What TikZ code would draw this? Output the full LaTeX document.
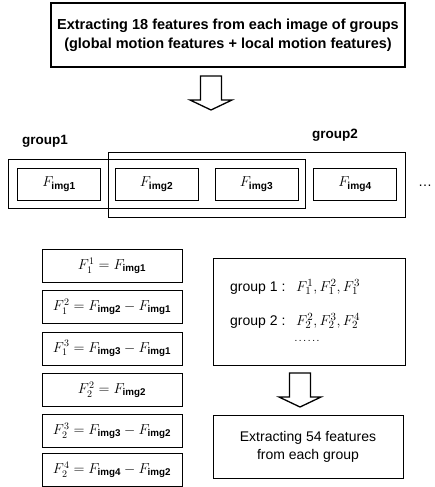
\documentclass[tikz,border=0pt]{standalone}
\usepackage{fontspec}
\setmainfont{Liberation Sans}
\usetikzlibrary{calc}

\tikzset{
  every node/.style={inner sep=0pt},
  box/.style={draw, line width=0.9pt},
  imgbox/.style={box, minimum width=83pt, minimum height=32pt, font=\fontsize{14.5}{17}\selectfont},
  eqbox/.style={box, minimum width=140pt, minimum height=33pt, font=\fontsize{14}{17}\selectfont},
  grplabel/.style={font=\fontsize{13.5}{15}\selectfont\bfseries},
  plain/.style={font=\fontsize{14}{18}\selectfont}
}
% hollow block arrow pointing down, from the middle of its top edge
\newcommand{\hollowdown}[1]{\draw[line width=1.3pt, line join=miter] #1 ++(-10.5,0) -- ++(0,24) -- ++(-10.5,0) -- ++(21,10) -- ++(21,-10) -- ++(-10.5,0) -- ++(0,-24) -- cycle;}

\begin{document}
\begin{tikzpicture}[x=1pt,y=-1pt]
\useasboundingbox (0,0) rectangle (435,487);

\node[box, line width=1.3pt, minimum width=354pt, minimum height=64pt, align=center,
      font=\fontsize{14.5}{19}\selectfont\bfseries] (top) at (228,35)
  {Extracting 18 features from each image of groups\\(global motion features + local motion features)};

\coordinate (arrA) at (211,76);
\hollowdown{(arrA)}

% groups of images
\node[box, minimum width=297pt, minimum height=49pt] (grp1) at (156.5,183.5) {};
\node[box, minimum width=297pt, minimum height=65pt] (grp2) at (256.5,184.5) {};
\node[grplabel] (lab1) at (45,141) {group1};
\node[grplabel] (lab2) at (335,135) {group2};

\node[imgbox] (img1) at (59,184) {$F_{\mathbf{img1}}$};
\node[imgbox] (img2) at (156.5,184) {$F_{\mathbf{img2}}$};
\node[imgbox] (img3) at (256.5,184) {$F_{\mathbf{img3}}$};
\node[imgbox] (img4) at (355,184) {$F_{\mathbf{img4}}$};
\node[plain] (more) at (425,186) {\dots};

% features per group
\node[eqbox] (eq1) at (112,266) {$F_1^1 = F_{\mathbf{img1}}$\hspace{22pt}};
\node[eqbox] (eq2) at (112,307) {$F_1^2 = F_{\mathbf{img2}} - F_{\mathbf{img1}}$};
\node[eqbox] (eq3) at (112,348.5) {$F_1^3 = F_{\mathbf{img3}} - F_{\mathbf{img1}}$};
\node[eqbox] (eq4) at (112,390) {$F_2^2 = F_{\mathbf{img2}}$\hspace{22pt}};
\node[eqbox] (eq5) at (112,431) {$F_2^3 = F_{\mathbf{img3}} - F_{\mathbf{img2}}$};
\node[eqbox] (eq6) at (112,470) {$F_2^4 = F_{\mathbf{img4}} - F_{\mathbf{img2}}$};

\node[box, minimum width=192pt, minimum height=107pt] (sets) at (309,311.5) {};
\node[plain, anchor=west] (set1) at (230,288) {group 1 :};
\node[plain, anchor=west] (set2) at (230,322) {group 2 :};
\node[font=\fontsize{15.5}{18}\selectfont, anchor=west] (fs1) at (296,287) {$F_1^1, F_1^2, F_1^3$};
\node[font=\fontsize{15.5}{18}\selectfont, anchor=west] (fs2) at (296,321) {$F_2^2, F_2^3, F_2^4$};
\node[font=\fontsize{10}{12}\selectfont] (etc) at (307,341) {.\,.\,.\,.\,.\,.};

\coordinate (arrB) at (300,373);
\hollowdown{(arrB)}

\node[box, plain, minimum width=190pt, minimum height=63pt, align=center] (out) at (308,446.5)
  {Extracting 54 features\\from each group};
\end{tikzpicture}
\end{document}
